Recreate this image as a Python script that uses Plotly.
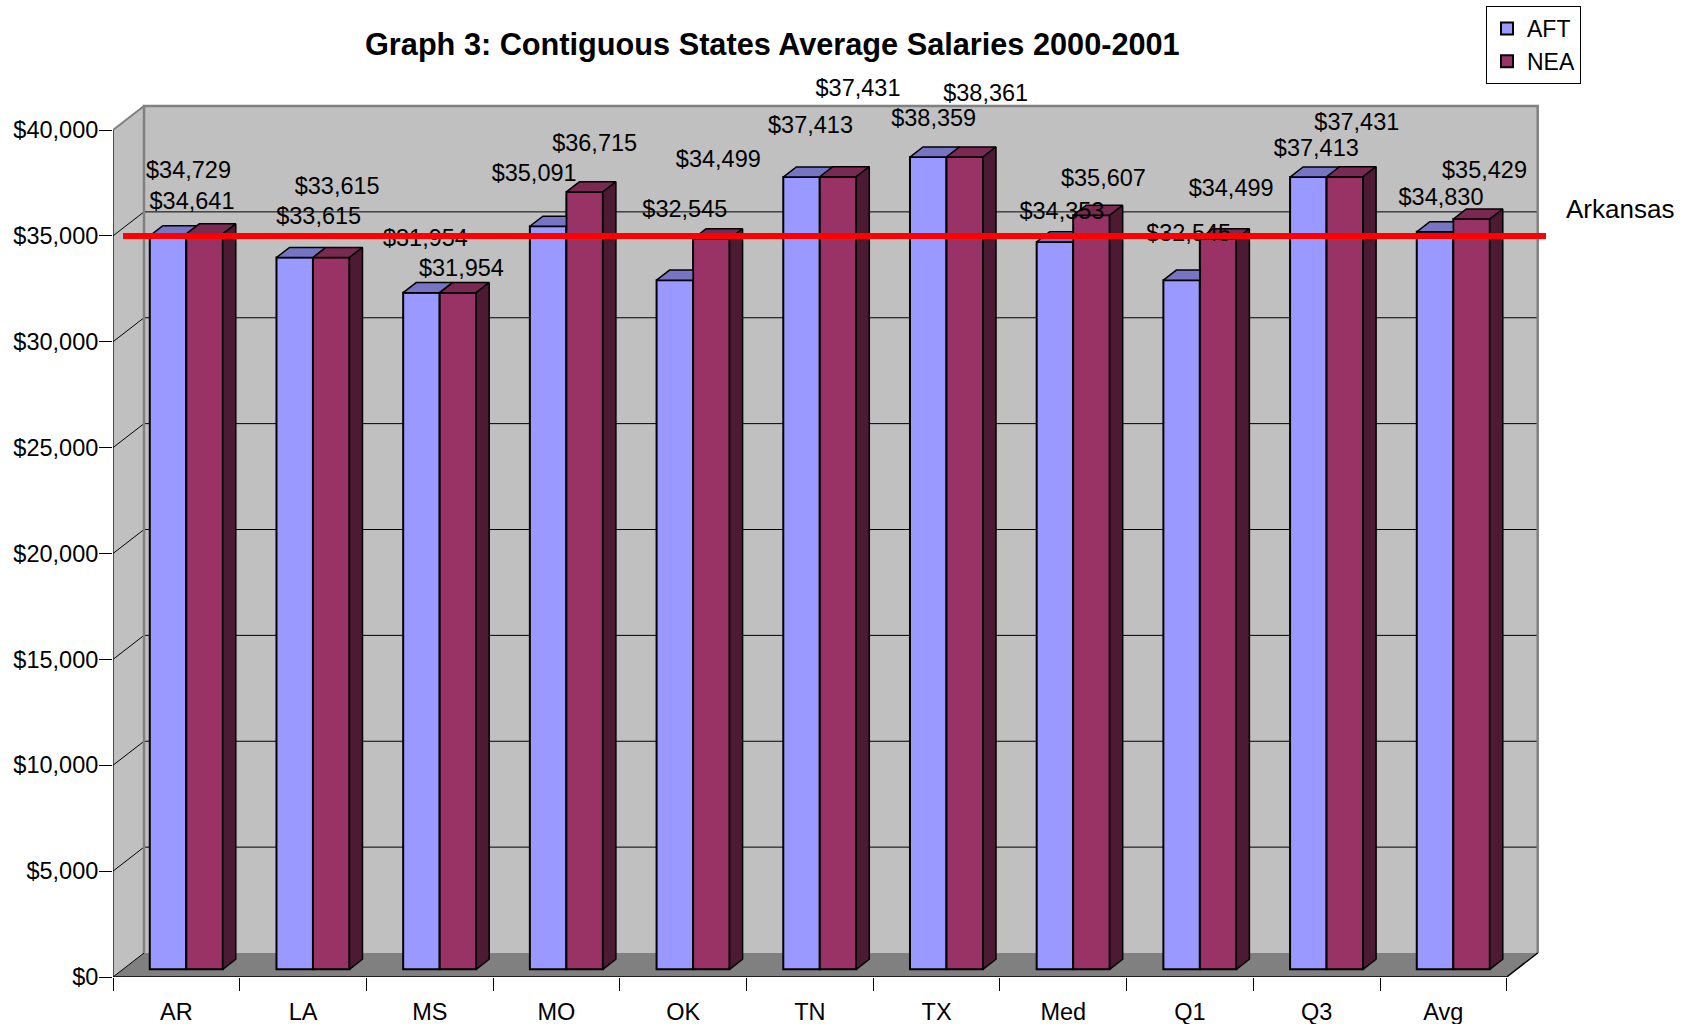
import plotly.graph_objects as go

# ---------------- data ----------------
categories = ["AR", "LA", "MS", "MO", "OK", "TN", "TX", "Med", "Q1", "Q3", "Avg"]
aft = [34641, 33615, 31954, 35091, 32545, 37413, 38359, 34353, 32545, 37413, 34830]
nea = [34729, 33615, 31954, 36715, 34499, 37431, 38361, 35607, 34499, 37431, 35429]
y_tick_values = [0, 5000, 10000, 15000, 20000, 25000, 30000, 35000, 40000]
y_tick_labels = ["$0", "$5,000", "$10,000", "$15,000", "$20,000",
                 "$25,000", "$30,000", "$35,000", "$40,000"]
arkansas_level = 35000
title_text = "Graph 3: Contiguous States Average Salaries 2000-2001"

# ---------------- style / layout constants ----------------
W, H = 1690, 1024
ML, MT, MR, MB = 113, 60, 151, 47
PW, PH = W - ML - MR, H - MT - MB
PX_PER_CAT = 126.7
PX_PER_USD = 0.021175
X_MAX = PW / PX_PER_CAT
Y_MAX = PH / PX_PER_USD
DX = 31 / PX_PER_CAT          # depth of the 3-D box (x units)
DY = 24 / PX_PER_USD          # depth of the 3-D box (y units)
FRONT = 0.32                  # bars' front face depth fraction
DEPTH = 0.42                  # bars' depth fraction
BAR_W = 36.5 / PX_PER_CAT
ddx, ddy = DEPTH * DX, DEPTH * DY
base = FRONT * DY
NCAT = len(categories)


def paper_x(px_):
    return (px_ - ML) / PW


def paper_y(py_):
    return (H - MB - py_) / PH


AFT_FRONT, AFT_TOP = "#9999FF", "#7575C3"
NEA_FRONT, NEA_TOP, NEA_SIDE = "#993366", "#7A2952", "#4D1A33"
WALL, FLOOR, EDGE = "#C0C0C0", "#808080", "#808080"
FONT = "Liberation Sans, Arial, sans-serif"

# label offsets from bar top centre, in pixels (dx, dy)
aft_label_shift = [(24, -33), (24, -39), (4, -53), (-14, -51), (10, -69), (9, -50),
                   (5.5, -37), (7, -29), (7, -45), (8, -27), (6, -33)]
nea_label_shift = [(-16, -62), (6, -69.5), (3.5, -23), (10, -47), (7, -78), (20, -87),
                   (21, -62), (12, -35), (13, -49), (12, -53), (13, -47)]

centers = [i + 0.5 + FRONT * DX for i in range(NCAT)]

fig = go.Figure()

# front faces
fig.add_trace(go.Bar(x=centers, y=aft, base=base, width=BAR_W, offset=-BAR_W,
                     marker=dict(color=AFT_FRONT, line=dict(color="black", width=2)),
                     name="AFT", hoverinfo="y"))
fig.add_trace(go.Bar(x=centers, y=nea, base=base, width=BAR_W, offset=0,
                     marker=dict(color=NEA_FRONT, line=dict(color="black", width=2)),
                     name="NEA", hoverinfo="y"))

# top faces of AFT (clipped where hidden behind NEA front)
px, py = [], []
for c, va, vn in zip(centers, aft, nea):
    x0, x1 = c - BAR_W, c
    t, tn = base + va, base + vn
    h = min(max(tn - t, 0), ddy)
    if h <= 0:
        pts = [(x0, t), (x1, t), (x1 + ddx, t + ddy), (x0 + ddx, t + ddy)]
    elif h >= ddy:
        pts = [(x0, t), (x1, t), (x1, t + ddy), (x0 + ddx, t + ddy)]
    else:
        pts = [(x0, t), (x1, t), (x1, t + h), (x1 + ddx * h / ddy, t + h),
               (x1 + ddx, t + ddy), (x0 + ddx, t + ddy)]
    pts.append(pts[0])
    for a, b in pts:
        px.append(a); py.append(b)
    px.append(None); py.append(None)
fig.add_trace(go.Scatter(x=px, y=py, mode="lines", fill="toself", fillcolor=AFT_TOP,
                         line=dict(color="black", width=1.5), showlegend=False,
                         hoverinfo="skip"))

# NEA top and side faces
tx, ty, sx, sy = [], [], [], []
for c, vn in zip(centers, nea):
    x1 = c
    tn = base + vn
    for a, b in [(x1, tn), (x1 + BAR_W, tn), (x1 + BAR_W + ddx, tn + ddy),
                 (x1 + ddx, tn + ddy), (x1, tn)]:
        tx.append(a); ty.append(b)
    tx.append(None); ty.append(None)
    for a, b in [(x1 + BAR_W, base), (x1 + BAR_W + ddx, base + ddy),
                 (x1 + BAR_W + ddx, tn + ddy), (x1 + BAR_W, tn), (x1 + BAR_W, base)]:
        sx.append(a); sy.append(b)
    sx.append(None); sy.append(None)
fig.add_trace(go.Scatter(x=tx, y=ty, mode="lines", fill="toself", fillcolor=NEA_TOP,
                         line=dict(color="black", width=1.5), showlegend=False,
                         hoverinfo="skip"))
fig.add_trace(go.Scatter(x=sx, y=sy, mode="lines", fill="toself", fillcolor=NEA_SIDE,
                         line=dict(color="black", width=1.5), showlegend=False,
                         hoverinfo="skip"))

# data labels
def fmt(v):
    return "${:,}".format(v)

for vals, shifts, sgn in [(aft, aft_label_shift, -1), (nea, nea_label_shift, 1)]:
    lx = [c + sgn * BAR_W / 2 + s[0] / PX_PER_CAT for c, s in zip(centers, shifts)]
    ly = [base + v - s[1] / PX_PER_USD for v, s in zip(vals, shifts)]
    fig.add_trace(go.Scatter(x=lx, y=ly, mode="text", text=[fmt(v) for v in vals],
                             textposition="middle center", cliponaxis=False,
                             textfont=dict(family=FONT, size=23.5, color="black"),
                             showlegend=False, hoverinfo="skip"))

# ---------------- 3-D box decorations ----------------
shapes = []
shapes.append(dict(type="rect", xref="x", yref="y", x0=DX, x1=NCAT + DX, y0=DY, y1=40000 + DY,
                   fillcolor=WALL, line=dict(width=0), layer="below"))
shapes.append(dict(type="path", xref="x", yref="y",
                   path=f"M0,0 L{DX},{DY} L{DX},{40000 + DY} L0,40000 Z",
                   fillcolor=WALL, line=dict(width=0), layer="below"))
shapes.append(dict(type="path", xref="x", yref="y",
                   path=f"M0,0 L{NCAT},0 L{NCAT + DX},{DY} L{DX},{DY} Z",
                   fillcolor=FLOOR, line=dict(width=0), layer="below"))
for v in y_tick_values[1:-1]:
    shapes.append(dict(type="line", xref="x", yref="y", x0=DX, x1=NCAT + DX,
                       y0=v + DY, y1=v + DY, line=dict(color="black", width=1), layer="below"))
for v in y_tick_values[:-1]:
    shapes.append(dict(type="line", xref="x", yref="y", x0=0, x1=DX,
                       y0=v, y1=v + DY, line=dict(color="black", width=1), layer="below"))
shapes.append(dict(type="path", xref="x", yref="y",
                   path=f"M{DX},{DY} L{DX},{40000 + DY} L{NCAT + DX},{40000 + DY} L{NCAT + DX},{DY}",
                   line=dict(color=EDGE, width=2.5), layer="below"))
shapes.append(dict(type="line", xref="x", yref="y", x0=0, x1=DX, y0=40000, y1=40000 + DY,
                   line=dict(color=EDGE, width=2), layer="below"))
shapes.append(dict(type="line", xref="x", yref="y", x0=0, x1=0, y0=0, y1=40000,
                   line=dict(color="black", width=1.2), layer="below"))
shapes.append(dict(type="path", xref="x", yref="y",
                   path=f"M0,0 L{NCAT},0 L{NCAT + DX},{DY}",
                   line=dict(color="black", width=1.5), layer="below"))
# Arkansas reference line
shapes.append(dict(type="line", xref="paper", yref="y",
                   x0=paper_x(123), x1=paper_x(1546),
                   y0=arkansas_level, y1=arkansas_level,
                   line=dict(color="#FF0000", width=6), layer="above"))

fig.update_layout(
    width=W, height=H,
    template="none",
    paper_bgcolor="white", plot_bgcolor="white",
    margin=dict(l=ML, r=MR, t=MT, b=MB, autoexpand=False),
    barmode="overlay",
    shapes=shapes,
    showlegend=True,
    legend=dict(x=paper_x(1486), y=paper_y(6), xanchor="left", yanchor="top",
                bgcolor="white", bordercolor="black", borderwidth=1,
                font=dict(family=FONT, size=23, color="black"),
                itemwidth=30, tracegroupgap=0),
    xaxis=dict(range=[0, X_MAX], showgrid=False, zeroline=False, showline=False,
               tickmode="array", tickvals=[i + 0.5 for i in range(NCAT)], ticktext=categories,
               ticks="", ticklabelstandoff=18,
               tickfont=dict(family=FONT, size=23.5, color="black"),
               minor=dict(tickmode="array", tickvals=list(range(NCAT + 1)), ticks="outside",
                          ticklen=13, tickcolor="black", tickwidth=1, showgrid=False),
               automargin=False, fixedrange=True),
    yaxis=dict(range=[0, Y_MAX], showgrid=False, zeroline=False, showline=False,
               tickmode="array", tickvals=y_tick_values, ticktext=y_tick_labels,
               ticks="outside", ticklen=13, tickcolor="black", tickwidth=1,
               ticklabelstandoff=-4,
               tickfont=dict(family=FONT, size=23.5, color="black"),
               automargin=False, fixedrange=True),
    annotations=[
        dict(text=f"<b>{title_text}</b>", xref="paper", yref="paper",
             x=paper_x(772), y=paper_y(44), xanchor="center", yanchor="middle",
             showarrow=False, font=dict(family=FONT, size=30.7, color="black")),
        dict(text="Arkansas", xref="paper", yref="paper",
             x=paper_x(1619.5), y=paper_y(209), xanchor="center", yanchor="middle",
             showarrow=False, font=dict(family=FONT, size=26, color="black")),
    ],
)

fig.write_html("out.html", config={"displayModeBar": False},
               post_script="document.body.style.margin='0px';")
